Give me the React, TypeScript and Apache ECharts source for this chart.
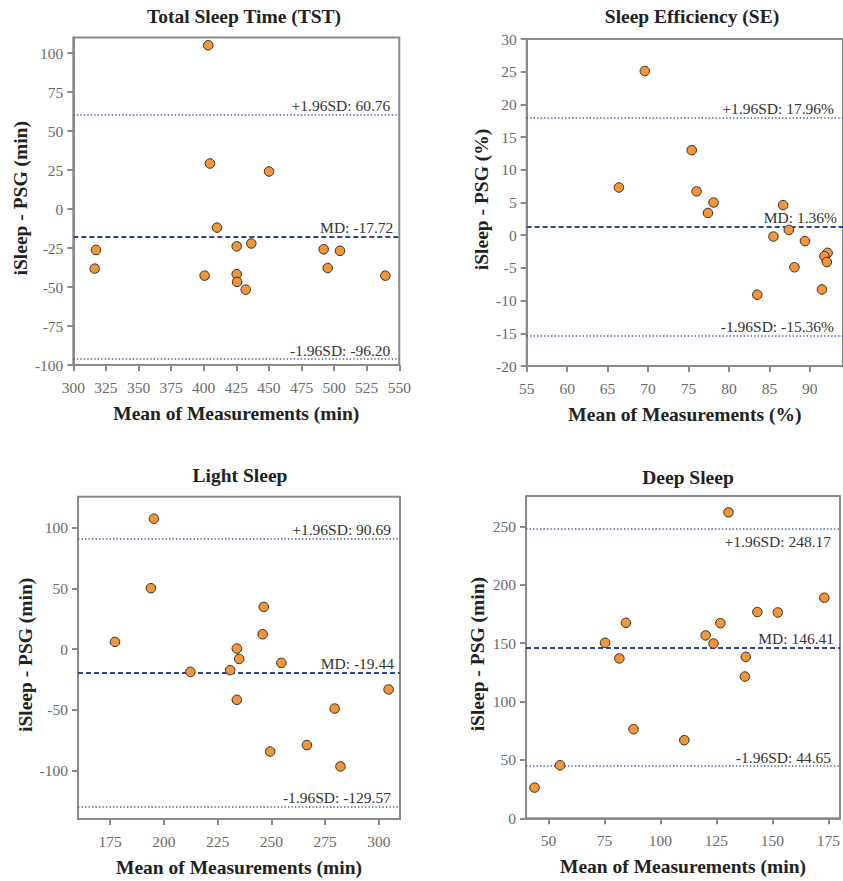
import React, { useEffect, useRef } from "react";
import * as echarts from "echarts";

// ---------- data ----------
const panelTitles = ["Total Sleep Time (TST)", "Sleep Efficiency (SE)", "Light Sleep", "Deep Sleep"];
const xNames = ["Mean of Measurements (min)", "Mean of Measurements (%)", "Mean of Measurements (min)", "Mean of Measurements (min)"];
const yNames = ["iSleep - PSG (min)", "iSleep - PSG (%)", "iSleep - PSG (min)", "iSleep - PSG (min)"];

const tstMean = [403.5, 404.8, 450.1, 410.2, 317.4, 316.4, 400.7, 425.3, 436.5, 425.3, 425.6, 432.2, 492.0, 504.5, 495.1, 539.3];
const tstDiff = [105, 29.2, 24.1, -11.9, -26.2, -38.2, -42.7, -23.9, -22.1, -41.8, -46.7, -51.7, -25.8, -26.8, -37.8, -42.7];

const seMean = [69.6, 66.4, 75.4, 76.0, 78.1, 77.4, 86.7, 87.4, 85.5, 89.4, 88.1, 83.5, 91.5, 92.2, 91.8, 92.1];
const seDiff = [25.1, 7.3, 13.0, 6.7, 5.0, 3.4, 4.6, 0.8, -0.2, -0.9, -4.9, -9.1, -8.3, -2.7, -3.2, -4.1];

const lightMean = [195.3, 193.9, 177.2, 212.3, 230.8, 233.9, 235.0, 233.9, 246.4, 245.9, 254.6, 249.4, 266.5, 279.4, 282.1, 304.5];
const lightDiff = [107.4, 50.1, 5.9, -18.8, -17.4, 0.4, -8.1, -41.8, 34.7, 12.2, -11.4, -84.4, -79.1, -49.0, -96.7, -33.3];

const deepMean = [130.4, 43.8, 55.2, 75.3, 81.7, 84.6, 88.0, 110.7, 120.2, 123.7, 126.8, 138.1, 137.7, 143.3, 152.4, 173.2];
const deepDiff = [262, 26.3, 45.4, 150.3, 136.9, 167.4, 76.3, 66.9, 156.6, 149.7, 167.1, 138.3, 121.4, 176.6, 176.3, 188.9];

// [upper LoA, mean difference, lower LoA]
const tstLimits = [60.76, -17.72, -96.2];
const seLimits = [17.96, 1.36, -15.36];
const lightLimits = [90.69, -19.44, -129.57];
const deepLimits = [248.17, 146.41, 44.65];
const limitLabelsTst = ["+1.96SD: 60.76", "MD: -17.72", "-1.96SD: -96.20"];
const limitLabelsSe = ["+1.96SD: 17.96%", "MD: 1.36%", "-1.96SD: -15.36%"];
const limitLabelsLight = ["+1.96SD: 90.69", "MD: -19.44", "-1.96SD: -129.57"];
const limitLabelsDeep = ["+1.96SD: 248.17", "MD: 146.41", "-1.96SD: 44.65"];

// axis extents and ticks
const xRanges = [[300, 550], [55, 94.1], [160, 309.8], [40, 180.2]];
const yRanges = [[-100, 110], [-20, 30], [-140, 125.5], [0, 276]];
const xTicksTst = [300, 325, 350, 375, 400, 425, 450, 475, 500, 525, 550];
const yTicksTst = [-100, -75, -50, -25, 0, 25, 50, 75, 100];
const xTicksSe = [55, 60, 65, 70, 75, 80, 85, 90];
const yTicksSe = [-20, -15, -10, -5, 0, 5, 10, 15, 20, 25, 30];
const xTicksLight = [175, 200, 225, 250, 275, 300];
const yTicksLight = [-100, -50, 0, 50, 100];
const xTicksDeep = [50, 75, 100, 125, 150, 175];
const yTicksDeep = [0, 50, 100, 150, 200, 250];

// ---------- layout / style ----------
const FONT = "Liberation Serif";
const grids = [
  { left: 73.3, top: 37.5, width: 326, height: 327.5 },
  { left: 526.7, top: 39, width: 326, height: 327 },
  { left: 78, top: 496.7, width: 322, height: 322.3 },
  { left: 526, top: 496, width: 322, height: 322.3 },
];
const titlePos = [[244, 16], [692, 16], [240, 475], [688, 477]];
const yNameGap = [42, 35, 41, 39];
const upperLabelPos = ["insideEndTop", "insideEndTop", "insideEndTop", "insideEndBottom"];

const AXIS_GRAY = "#8a8a8a";
const LABEL_GRAY = "#6a6a6a";

export default function App() {
  const ref = useRef<HTMLDivElement>(null);
  useEffect(() => {
    if (!ref.current) return;
    const chart = echarts.init(ref.current, undefined, { renderer: "svg" });

    const means = [tstMean, seMean, lightMean, deepMean];
    const diffs = [tstDiff, seDiff, lightDiff, deepDiff];
    const limits = [tstLimits, seLimits, lightLimits, deepLimits];
    const limitLabels = [limitLabelsTst, limitLabelsSe, limitLabelsLight, limitLabelsDeep];
    const xTicks = [xTicksTst, xTicksSe, xTicksLight, xTicksDeep];
    const yTicks = [yTicksTst, yTicksSe, yTicksLight, yTicksDeep];

    const labelStyle = {
      color: "#333",
      fontFamily: FONT,
      fontSize: 15.5,
    };

    const xAxis = grids.map((_, i) => ({
      type: "value",
      gridIndex: i,
      min: xRanges[i][0],
      max: xRanges[i][1],
      name: xNames[i],
      nameLocation: "middle",
      nameGap: 38,
      nameTextStyle: { fontFamily: FONT, fontSize: 19.5, fontWeight: "bold", color: "#222" },
      axisLine: { show: true, onZero: false, lineStyle: { color: AXIS_GRAY, width: 2 } },
      axisTick: { show: true, length: 6, customValues: xTicks[i], lineStyle: { color: AXIS_GRAY, width: 2 } },
      axisLabel: { customValues: xTicks[i], margin: 14, fontFamily: FONT, fontSize: 15.5, color: LABEL_GRAY },
      splitLine: { show: false },
    }));

    const yAxis = grids.map((_, i) => ({
      type: "value",
      gridIndex: i,
      min: yRanges[i][0],
      max: yRanges[i][1],
      name: yNames[i],
      nameLocation: "middle",
      nameGap: yNameGap[i],
      nameTextStyle: { fontFamily: FONT, fontSize: 19.5, fontWeight: "bold", color: "#222", padding: [0, 0, 0, 6] },
      axisLine: { show: true, onZero: false, lineStyle: { color: AXIS_GRAY, width: 2 } },
      axisTick: { show: true, length: 6, customValues: yTicks[i], lineStyle: { color: AXIS_GRAY, width: 2 } },
      axisLabel: { customValues: yTicks[i], margin: 10, fontFamily: FONT, fontSize: 15.5, color: LABEL_GRAY },
      splitLine: { show: false },
    }));

    const series = grids.map((_, i) => ({
      type: "scatter",
      xAxisIndex: i,
      yAxisIndex: i,
      data: means[i].map((m, k) => [m, diffs[i][k]]),
      symbolSize: 9.5,
      itemStyle: { color: "#f0963c", borderColor: "#3b2a18", borderWidth: 1, opacity: 1 },
      z: 5,
      markLine: {
        silent: true,
        symbol: "none",
        animation: false,
        z: 3,
        data: [
          {
            yAxis: limits[i][0],
            lineStyle: { type: [1.3, 2.2], color: "#4257b0", width: 1.6 },
            label: { formatter: limitLabels[i][0], position: upperLabelPos[i], distance: i === 3 ? [9, 5] : [9, 1], ...labelStyle },
          },
          {
            yAxis: limits[i][1],
            lineStyle: { type: [5, 3], color: "#2a46a0", width: 1.8 },
            label: { formatter: limitLabels[i][1], position: "insideEndTop", distance: [6, 1], ...labelStyle },
          },
          {
            yAxis: limits[i][2],
            lineStyle: { type: [1.3, 2.2], color: "#4257b0", width: 1.6 },
            label: { formatter: limitLabels[i][2], position: "insideEndTop", distance: [9, 1], ...labelStyle },
          },
        ],
      },
    }));

    const graphic = panelTitles.map((t, i) => ({
      type: "text",
      x: titlePos[i][0],
      y: titlePos[i][1],
      style: {
        text: t,
        fontFamily: FONT,
        fontSize: 19.5,
        fontWeight: "bold",
        fill: "#222",
        textAlign: "center",
        textVerticalAlign: "middle",
      },
    }));

    chart.setOption({
      animation: false,
      backgroundColor: "#ffffff",
      grid: grids.map((g) => ({ ...g, show: true, borderColor: AXIS_GRAY, borderWidth: 2, backgroundColor: "transparent" })),
      xAxis,
      yAxis,
      series,
      graphic,
    } as any);

    return () => chart.dispose();
  }, []);

  return (
    <div
      ref={ref}
      style={{ position: "fixed", left: 0, top: 0, width: 843, height: 881, overflow: "hidden", background: "#fff" }}
    />
  );
}
